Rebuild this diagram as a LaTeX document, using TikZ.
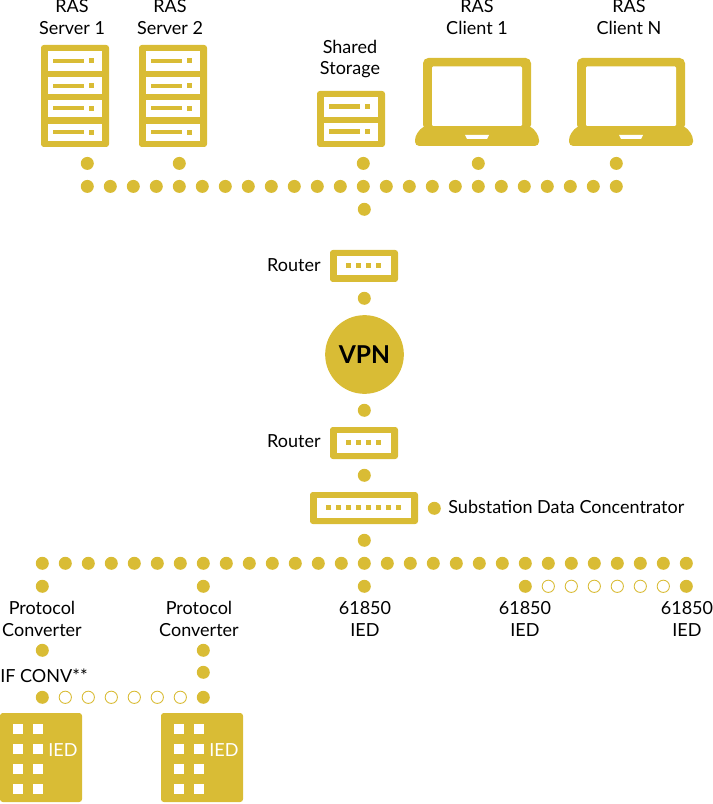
\documentclass[tikz,border=0pt]{standalone}
\usepackage{fontspec}
\setmainfont{Lato}
\usepackage{xcolor}
\usetikzlibrary{positioning}
\definecolor{gold}{HTML}{D9BC35}

\begin{document}
\begin{tikzpicture}[
      x=0.2mm, y=-0.2mm,
      dot/.style={circle, fill=gold, inner sep=0pt, minimum size=0.26cm},
      hollow/.style={circle, draw=gold, line width=0.5pt, fill=white, inner sep=0pt, minimum size=0.245cm},
      lbl/.style={align=center, inner sep=0pt, font=\fontsize{10.25}{12.5}\selectfont},
      casing/.style={fill=gold, rounded corners=1.6pt},
      slot/.style={fill=white},
      led/.style={fill=gold}
    ]
    \useasboundingbox (0,0) rectangle (713,804);

    % Server
    \foreach \x in {0, 98} {
      \fill[casing] (41+\x,45) rectangle (109+\x,147);
      \foreach \ya/\yb in {51/71, 77/94.5, 100/117, 124/141} {
        \fill[slot] (48+\x,\ya) rectangle (102+\x,\yb);
        \fill[led] (53+\x,\ya/2+\yb/2-2) rectangle (84+\x,\ya/2+\yb/2+2);
        \fill[led] (89+\x,\ya/2+\yb/2-2.5) rectangle (94+\x,\ya/2+\yb/2+2.5);
      }
    }
    \node[lbl] (srv1) at (72,17.5) {RAS\\Server 1};
    \node[lbl] (srv2) at (170,17.5) {RAS\\Server 2};

    % Storage
    \fill[casing] (317,91) rectangle (385,147);
    \foreach \ya/\yb in {97/117, 123/141} {
      \fill[slot] (324,\ya) rectangle (378,\yb);
      \fill[led] (329,\ya/2+\yb/2-2.5) rectangle (360,\ya/2+\yb/2+2.5);
      \fill[led] (365,\ya/2+\yb/2-2.5) rectangle (370,\ya/2+\yb/2+2.5);
    }
    \node[lbl] (store) at (350,59) {Shared\\Storage};

    % Laptop
    \foreach \x in {0, 154} {
      \fill[casing, rounded corners=3pt] (423+\x,130) -- (423+\x,58) -- (531+\x,58) -- (531+\x,130) -- cycle;
      \fill[gold, rounded corners=2.4pt] (423+\x,126) -- (415+\x,136) -- (415+\x,146) -- (539+\x,146) -- (539+\x,136) -- (531+\x,126) -- cycle;
      \fill[slot, rounded corners=0.6pt] (432+\x,66.5) rectangle (522+\x,126);
      \fill[slot] (465+\x,135) -- (489+\x,135) -- (487+\x,139) -- (467+\x,139) -- cycle;
    }
    \node[lbl] (cli1) at (477,17.5) {RAS\\Client 1};
    \node[lbl] (cliN) at (629,17.5) {RAS\\Client N};

    % Punkte oben
    \foreach \i in {0,...,23}
      \node[dot] (top\i) at (87.3+23*\i,186.4) {};
    \foreach \x in {87.3,179.3,363.3,478.3,616.3}
      \node[dot] at (\x,163.4) {};
    \foreach \y in {209.3,298.3,410.3,475.3,540.3}
      \node[dot] at (364.3,\y) {};

    % Router
    \foreach \y in {250,427} {
      \fill[casing] (330,\y) rectangle (398,\y+32);
      \fill[slot] (337,\y+6) rectangle (391,\y+25.5);
      \foreach \i in {0,...,3}
        \fill[led] (346+10*\i,\y+13) rectangle (351+10*\i,\y+18);
    }
    \node[lbl, anchor=east] (rt1) at (321,265.5) {Router};
    \node[lbl, anchor=east] (rt2) at (321,441.5) {Router};

    % VPN
    \node[circle, fill=gold, minimum size=1.574cm, inner sep=0pt,
          font=\fontsize{14}{16}\selectfont\bfseries] (vpn) at (364.5,354.5) {VPN};

    % Konzentrator
    \fill[casing] (310,492) rectangle (418,524);
    \fill[slot] (317,498) rectangle (411,517.5);
    \foreach \i in {0,...,7}
      \fill[led] (326+10*\i,505) rectangle (331+10*\i,510);
    \node[dot] (cdot) at (434.3,508.3) {};
    \node[lbl, anchor=west] (conc) at (448,506.5) {Substation Data Concentrator};

    % Punkte unten
    \foreach \i in {0,...,28}
      \node[dot] (bus\i) at (42.3+23*\i,563.3) {};
    \foreach \x in {42.3,203.3,364.3,525.3,686.3}
      \node[dot] at (\x,586.3) {};
    \foreach \i in {1,...,6}
      \node[hollow] at (525.3+23*\i,586.3) {};

    \node[lbl] (conv1) at (42,618.5) {Protocol\\Converter};
    \node[lbl] (conv2) at (199,618.5) {Protocol\\Converter};
    \node[lbl] (ied1) at (365,618.5) {61850\\IED};
    \node[lbl] (ied2) at (525,618.5) {61850\\IED};
    \node[lbl] (ied3) at (687,618.5) {61850\\IED};

    \node[dot] at (42.3,650.3) {};
    \node[dot] at (203.3,650.3) {};
    \node[dot] at (203.3,672.3) {};
    \node[lbl, anchor=west] (ifconv) at (0,675.5) {IF CONV**};
    \node[dot] at (42.3,697.3) {};
    \node[dot] at (203.3,697.3) {};
    \foreach \i in {1,...,6}
      \node[hollow] at (42.3+23*\i,697.3) {};

    % IED
    \foreach \x/\name in {0/bld1, 161/bld2} {
      \fill[casing] (\x,713) rectangle (82+\x,802);
      \foreach \y in {724,744,764,784} {
        \fill[slot] (13+\x,\y) rectangle (23+\x,\y+10);
        \fill[slot] (33+\x,\y) rectangle (43+\x,\y+10);
      }
      \node[lbl, text=white] (\name) at (63+\x,750) {IED};
    }
  \end{tikzpicture}
\end{document}
